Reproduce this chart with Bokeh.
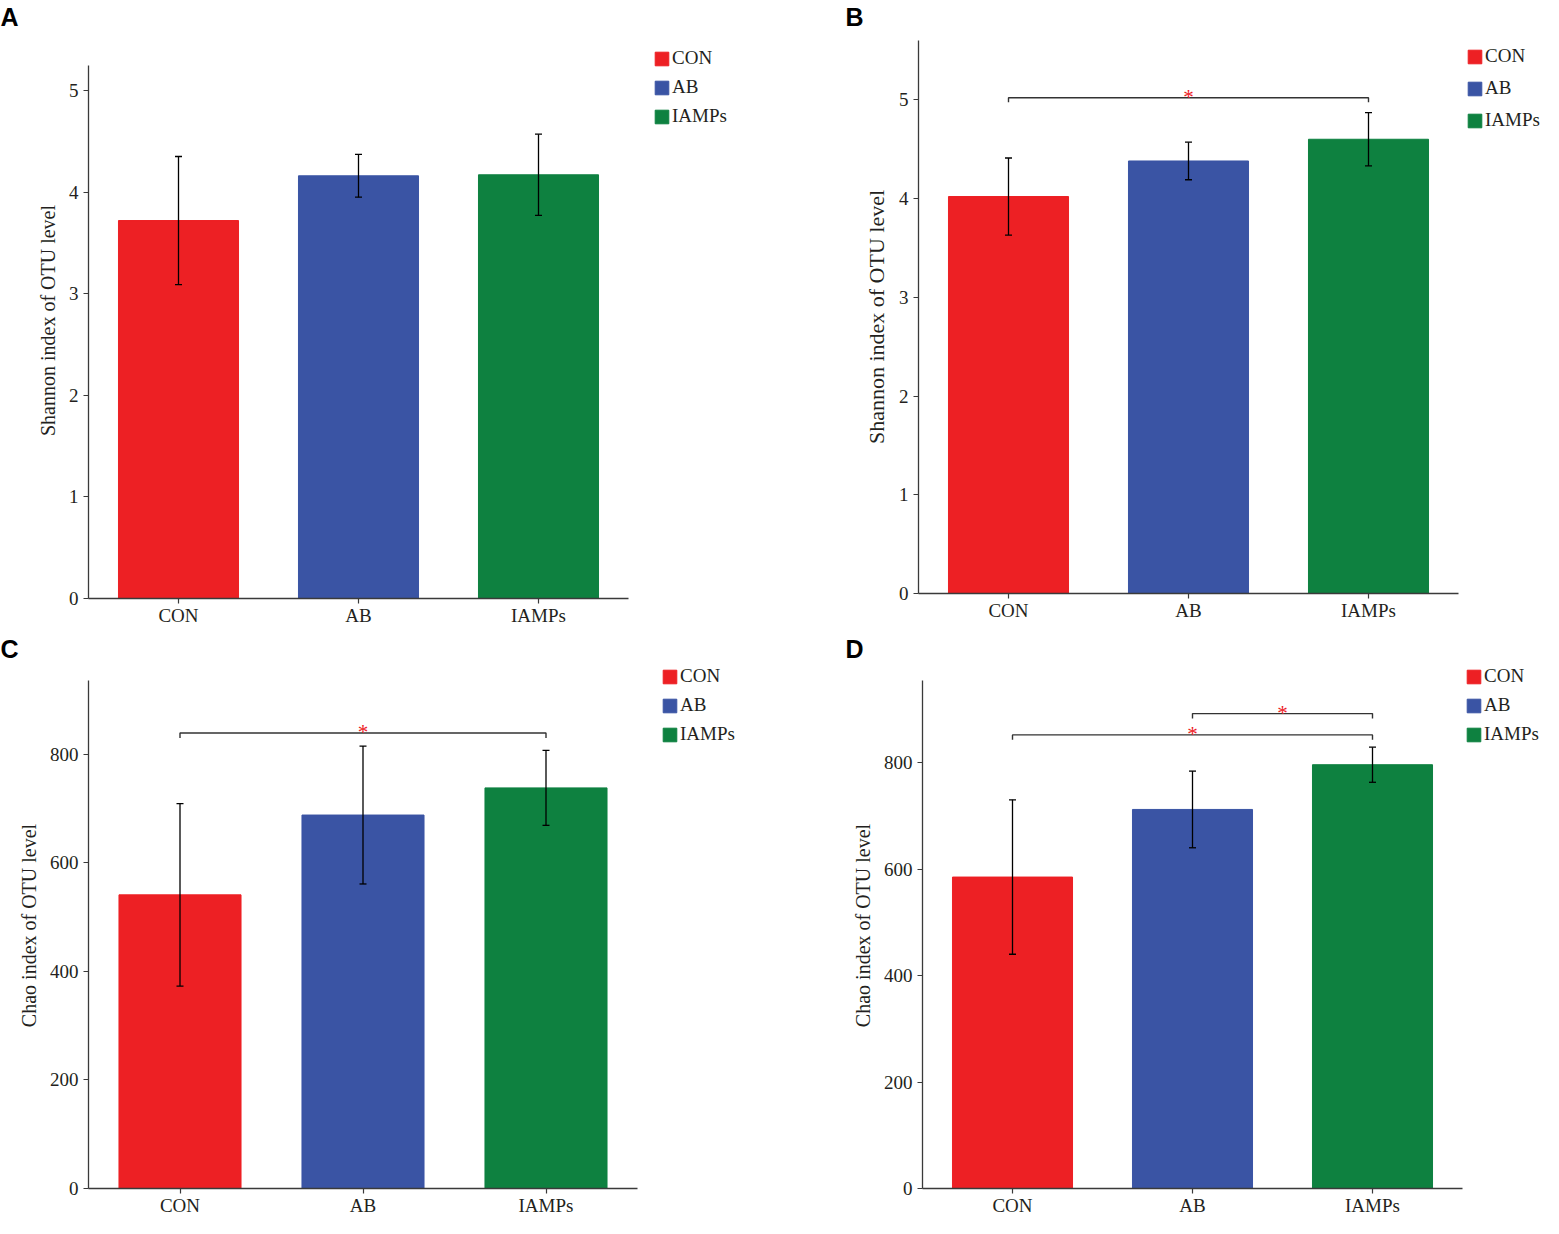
from bokeh.plotting import figure
from bokeh.models import (ColumnDataSource, Range1d, Whisker, TeeHead,
                          Legend, LegendItem, Title, FixedTicker)
from bokeh.layouts import column, row
from bokeh.core.properties import value
from bokeh.embed import file_html
from bokeh.resources import INLINE

groups = ["CON", "AB", "IAMPs"]
colors = ["#ED2024", "#3A54A4", "#0E8140"]

shannon_a_mean = [3.72, 4.16, 4.17]
shannon_a_err = [0.63, 0.21, 0.40]
shannon_b_mean = [4.02, 4.38, 4.60]
shannon_b_err = [0.39, 0.19, 0.27]
chao_c_mean = [541, 688, 738]
chao_c_err = [168, 127, 69]
chao_d_mean = [585, 712, 796]
chao_d_err = [145, 72, 33]

y_ticks_shannon = [0, 1, 2, 3, 4, 5]
y_ticks_chao = [0, 200, 400, 600, 800]

# significance brackets: (left group, right group, bracket level)
brackets_b = [("CON", "IAMPs", 5.02)]
brackets_c = [("CON", "IAMPs", 839)]
brackets_d = [("CON", "IAMPs", 852), ("AB", "IAMPs", 892)]

SERIF = "Liberation Serif"
AX = "#3a3a3a"


def panel(letter, means, errs, ymax, yextra, yticks, ylabel, brackets, drop,
          width, height, bl, bt, bb, xspan, leg_pos, leg_spacing,
          label_size, title_off, spacer):
    xpos = list(range(len(groups)))
    src = ColumnDataSource(dict(
        x=xpos, m=means, c=colors, g=groups,
        up=[m + e for m, e in zip(means, errs)],
        lo=[m - e for m, e in zip(means, errs)]))
    p = figure(x_range=Range1d(-0.5, -0.5 + xspan), y_range=Range1d(0, ymax + yextra),
               width=width, height=height, output_backend="svg",
               toolbar_location=None, min_border_left=bl, min_border_top=bt,
               min_border_bottom=bb, min_border_right=0)
    r = p.vbar(x="x", top="m", width=0.667, source=src, fill_color="c",
               line_color="c")
    w = Whisker(base="x", upper="up", lower="lo", source=src, level="overlay",
                line_color="black", line_width=1.3,
                upper_head=TeeHead(size=7, line_color="black", line_width=1.3),
                lower_head=TeeHead(size=7, line_color="black", line_width=1.3))
    p.add_layout(w)
    for (a, b, lev) in brackets:
        ia, ib = groups.index(a), groups.index(b)
        p.line(x=[ia, ia, ib, ib], y=[lev - drop, lev, lev, lev - drop],
               line_color="#333333", line_width=1.4)
        p.text(x=[(ia + ib) / 2.0], y=[lev], text=["*"],
               text_color="#ED2024", text_font=value(SERIF),
               text_font_size="21px", text_align="center",
               text_baseline="middle", y_offset=-1)
    items = [LegendItem(label=g, renderers=[r], index=i) for i, g in enumerate(groups)]
    leg = Legend(items=items, location=leg_pos, glyph_width=17, glyph_height=17,
                 label_standoff=2, spacing=leg_spacing, padding=0, margin=0,
                 border_line_alpha=0, background_fill_alpha=0,
                 label_text_font=SERIF, label_text_font_size="19px",
                 label_text_color="#231f20", label_height=17)
    p.add_layout(leg, "center")
    p.title.text = letter
    p.title.align = "left"
    p.title.offset = title_off
    p.title.standoff = 0
    p.title.text_font = "Liberation Sans"
    p.title.text_font_style = "bold"
    p.title.text_font_size = "25px"
    p.title.text_color = "black"
    if spacer > 0:
        p.add_layout(Title(text=" ", text_font_size="1px", standoff=spacer), "above")
    p.xgrid.visible = False
    p.ygrid.visible = False
    p.outline_line_color = None
    p.xaxis.ticker = FixedTicker(ticks=xpos)
    p.xaxis.major_label_overrides = {i: g for i, g in zip(xpos, groups)}
    p.xaxis.bounds = (-0.5, len(groups) - 0.5)
    p.xaxis.minor_tick_line_color = None
    p.yaxis.ticker = FixedTicker(ticks=yticks)
    p.yaxis.bounds = (0, ymax)
    p.yaxis.minor_tick_line_color = None
    for ax in (p.xaxis, p.yaxis):
        ax.axis_line_color = AX
        ax.axis_line_width = 1.3
        ax.major_tick_line_color = AX
        ax.major_tick_line_width = 1.2
        ax.major_tick_out = 5
        ax.major_tick_in = 0
        ax.major_label_text_font = SERIF
        ax.major_label_text_font_size = "19px"
        ax.major_label_text_color = "#231f20"
    p.xaxis.major_label_standoff = 1
    p.yaxis.major_label_standoff = 5
    p.yaxis.axis_label = ylabel
    p.yaxis.axis_label_text_font = SERIF
    p.yaxis.axis_label_text_font_style = "normal"
    p.yaxis.axis_label_text_font_size = label_size
    p.yaxis.axis_label_text_color = "#231f20"
    p.yaxis.axis_label_standoff = 7
    return p


W1, W2, H1, H2 = 838, 705, 632, 586

# frame extends to the right edge so the legend sits inside it; axis lines are bounded
pa = panel("A", shannon_a_mean, shannon_a_err, 5.25, 0.222, y_ticks_shannon,
           "Shannon index of OTU level", [], 0.0,
           W1, H1, 88, 42, 34, (W1 - 88) / 180.0, (565, 471), 7, "20px", -88, 9)
pb = panel("B", shannon_b_mean, shannon_b_err, 5.6, 0.0, y_ticks_shannon,
           "Shannon index of OTU level", brackets_b, 0.045,
           W2, H1, 80, 40, 39, (W2 - 80) / 180.0, (548, 462), 10, "22px", -73, 7)
pc = panel("C", chao_c_mean, chao_c_err, 936, 33, y_ticks_chao,
           "Chao index of OTU level", brackets_c, 9,
           W1, H2, 88, 30, 28, (W1 - 88) / 183.0, (573, 443), 7, "20px", -88, 0)
pd = panel("D", chao_d_mean, chao_d_err, 954, 34, y_ticks_chao,
           "Chao index of OTU level", brackets_d, 9,
           W2, H2, 84, 30, 28, (W2 - 84) / 180.0, (543, 443), 7, "20px", -77, 0)


def box(p, w, h):
    return column(p, width=w, height=h, sizing_mode="fixed")


layout = column(row(box(pa, W1, H1), box(pb, W2, H1), spacing=0,
                    width=W1 + W2, height=H1, sizing_mode="fixed"),
                row(box(pc, W1, H2), box(pd, W2, H2), spacing=0,
                    width=W1 + W2, height=H2, sizing_mode="fixed"),
                spacing=0, width=W1 + W2, height=H1 + H2, sizing_mode="fixed")
open("out.html", "w").write(file_html(layout, INLINE))
